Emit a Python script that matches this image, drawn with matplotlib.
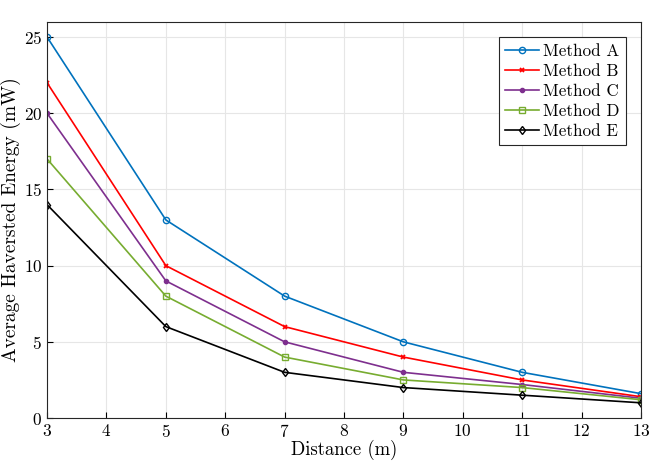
import matplotlib
matplotlib.use("Agg")
import matplotlib.pyplot as plt

# data
distance = [3, 5, 7, 9, 11, 13]
method_a = [25, 13, 8, 5, 3.0, 1.6]
method_b = [22, 10, 6, 4, 2.5, 1.4]
method_c = [20, 9, 5, 3, 2.2, 1.3]
method_d = [17, 8, 4, 2.5, 2.0, 1.2]
method_e = [14, 6, 3, 2, 1.5, 1.0]
labels = ["Method A", "Method B", "Method C", "Method D", "Method E"]

plt.rcParams["font.family"] = "serif"
plt.rcParams["font.serif"] = ["cmr10"]
plt.rcParams["mathtext.fontset"] = "cm"
plt.rcParams["axes.formatter.use_mathtext"] = True

fig = plt.figure(figsize=(6.54, 4.65), dpi=100)
ax = fig.add_axes([0.072, 0.101, 0.908, 0.852])

styles = [
    dict(color="#0072BD", marker="o", mfc="none", ms=4.5),
    dict(color="#FF0000", marker="x", ms=3.5, mew=1.3),
    dict(color="#7E2F8E", marker=".", ms=6),
    dict(color="#77AC30", marker="s", mfc="none", ms=4.5),
    dict(color="black", marker="d", mfc="none", ms=4.5),
]
for ys, lab, st in zip([method_a, method_b, method_c, method_d, method_e], labels, styles):
    ax.plot(distance, ys, lw=1.2, label=lab, **st)

ax.set_xlim(3, 13)
ax.set_ylim(0, 26)
ax.set_xticks(range(3, 14))
ax.set_yticks([0, 5, 10, 15, 20, 25])
ax.grid(True, color="#e6e6e6", lw=0.8)
ax.set_axisbelow(True)
ax.tick_params(direction="in", labelsize=12.5, length=4, top=False, right=False)
for s in ax.spines.values():
    s.set_color("#262626")
    s.set_linewidth(0.8)

ax.set_xlabel("Distance (m)", fontsize=13.5, labelpad=0)
ax.set_ylabel("Average Haversted Energy (mW)", fontsize=14, labelpad=2)

leg = ax.legend(loc="upper right", fontsize=12.3, fancybox=False, edgecolor="#262626",
                framealpha=1, handlelength=2.0, borderaxespad=0.9, labelspacing=0.28,
                handletextpad=0.25, borderpad=0.35)
leg.get_frame().set_linewidth(0.8)

fig.savefig("out.png", dpi=100)
